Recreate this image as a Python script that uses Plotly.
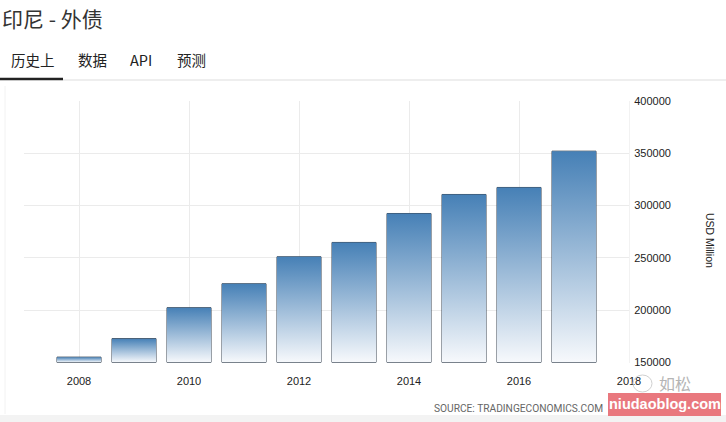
import plotly.graph_objects as go

# ---- data ----
years = [2008, 2009, 2010, 2011, 2012, 2013, 2014, 2015, 2016, 2017]
debt_usd_million = [155000, 172700, 202300, 225200, 251000, 264700, 292400, 310600, 317300, 352000]
x_tick_vals = [2008, 2010, 2012, 2014, 2016, 2018]
y_tick_vals = [150000, 200000, 250000, 300000, 350000, 400000]
title_text = "印尼 - 外债"
tabs = ["历史上", "数据", "API", "预测"]
y_title = "USD Million"
source_text = "SOURCE: TRADINGECONOMICS.COM"

W, H = 726, 422
L, R, T, B = 24, 629, 101, 363  # plot area in pixels
BASE = 150000
BAR_W = 0.8

def px(x):
    return (x - L) / (R - L)

def py(y):
    return (B - y) / (B - T)

CJK = "Noto Sans CJK SC"
LAT = "Liberation Sans, Arial, sans-serif"

fig = go.Figure()

# gradient-filled bars (one polygon per bar, gradient spans each bar)
for yr, v in zip(years, debt_usd_million):
    xs = [yr - BAR_W / 2, yr - BAR_W / 2, yr + BAR_W / 2, yr + BAR_W / 2, yr - BAR_W / 2]
    ys = [BASE, v, v, BASE, BASE]
    fig.add_trace(go.Scatter(
        x=xs, y=ys, mode="lines", fill="toself",
        line=dict(width=0, color="rgba(0,0,0,0)"),
        fillgradient=dict(type="vertical",
                          colorscale=[[0, "#f7f9fc"], [1, "#4680b6"]]),
        hoverinfo="skip", showlegend=False,
    ))

# outlines as a real bar trace
fig.add_trace(go.Bar(
    x=years, y=[v - BASE for v in debt_usd_million], base=BASE,
    width=BAR_W,
    marker=dict(color="rgba(0,0,0,0)", line=dict(color="#34404e", width=1)),
    customdata=debt_usd_million,
    hovertemplate="%{x}: %{customdata}<extra></extra>",
    showlegend=False,
))

fig.update_layout(
    width=W, height=H,
    margin=dict(l=L, r=W - R, t=T, b=H - B, pad=0),
    paper_bgcolor="white", plot_bgcolor="white",
    font=dict(family=LAT, size=11, color="#333333"),
    xaxis=dict(
        range=[2007.0, 2018.0], tickvals=x_tick_vals,
        ticktext=[str(v) for v in x_tick_vals],
        showgrid=True, gridcolor="#ebebeb", gridwidth=1,
        zeroline=False, showline=False,
        ticks="outside", ticklen=8, tickcolor="rgba(0,0,0,0)",
        tickfont=dict(size=11, color="#222222", family=LAT),
        fixedrange=True,
    ),
    yaxis=dict(
        side="right", range=[BASE - 600, 400000], tickvals=y_tick_vals,
        ticktext=[str(v) for v in y_tick_vals],
        showgrid=True, gridcolor="#ebebeb", gridwidth=1,
        zeroline=False, showline=True, linecolor="#f2f2f2",
        ticks="outside", ticklen=2, tickcolor="rgba(0,0,0,0)",
        tickfont=dict(size=11, color="#222222", family=LAT),
        fixedrange=True,
    ),
    bargap=0.2,
)

shapes = []
# tab underline + separator
shapes.append(dict(type="line", xref="paper", yref="paper",
                   x0=px(63), x1=px(W), y0=py(80), y1=py(80),
                   line=dict(color="#dddddd", width=1)))
shapes.append(dict(type="line", xref="paper", yref="paper",
                   x0=px(0), x1=px(63), y0=py(79), y1=py(79),
                   line=dict(color="#222222", width=2.5)))
# faint card left border
shapes.append(dict(type="line", xref="paper", yref="paper",
                   x0=px(5), x1=px(5), y0=py(86), y1=py(414),
                   line=dict(color="#f2f2f2", width=1)))
# bottom grey band
shapes.append(dict(type="rect", xref="paper", yref="paper",
                   x0=px(0), x1=px(W), y0=py(415), y1=py(H),
                   fillcolor="#f3f3f3", line=dict(width=0), layer="below"))
# watermark pink box
shapes.append(dict(type="rect", xref="paper", yref="paper",
                   x0=px(608), x1=px(721), y0=py(393), y1=py(416),
                   fillcolor="#e9787e", line=dict(width=0), layer="above"))
# watermark chat-bubble icon (circle)
shapes.append(dict(type="circle", xref="paper", yref="paper",
                   x0=px(633), x1=px(652), y0=py(375), y1=py(392),
                   line=dict(color="#d0d0d0", width=1), layer="above"))
fig.update_layout(shapes=shapes)

ann = []
ann.append(dict(text=title_text, xref="paper", yref="paper",
                x=px(0), y=py(18), xanchor="left", yanchor="middle",
                showarrow=False, font=dict(family=CJK, size=21, color="#333333")))
tab_x = [9, 76, 128, 175]
for t, xx in zip(tabs, tab_x):
    ann.append(dict(text=t, xref="paper", yref="paper",
                    x=px(xx), y=py(59), xanchor="left", yanchor="middle",
                    showarrow=False, font=dict(family=CJK, size=14.5, color="#222222")))
ann.append(dict(text=y_title, xref="paper", yref="paper",
                x=px(710), y=py(240), xanchor="center", yanchor="middle",
                textangle=90, showarrow=False,
                font=dict(family=LAT, size=10.5, color="#222222")))
ann.append(dict(text=source_text, xref="paper", yref="paper",
                x=px(605), y=py(408), xanchor="right", yanchor="middle",
                showarrow=False, font=dict(family="Roboto", size=10.2, color="#666666")))
ann.append(dict(text="如松", xref="paper", yref="paper",
                x=px(657), y=py(383), xanchor="left", yanchor="middle",
                showarrow=False, font=dict(family=CJK, size=16, color="#b5b5b5")))
ann.append(dict(text="<b>niudaoblog.com</b>", xref="paper", yref="paper",
                x=px(664.5), y=py(404), xanchor="center", yanchor="middle",
                showarrow=False, font=dict(family=LAT, size=14.5, color="white")))
fig.update_layout(annotations=ann)

fig.write_html(
    "out.html",
    config={"displayModeBar": False},
    post_script="document.body.style.margin='0';document.body.style.padding='0';"
                "document.documentElement.style.overflow='hidden';",
)
